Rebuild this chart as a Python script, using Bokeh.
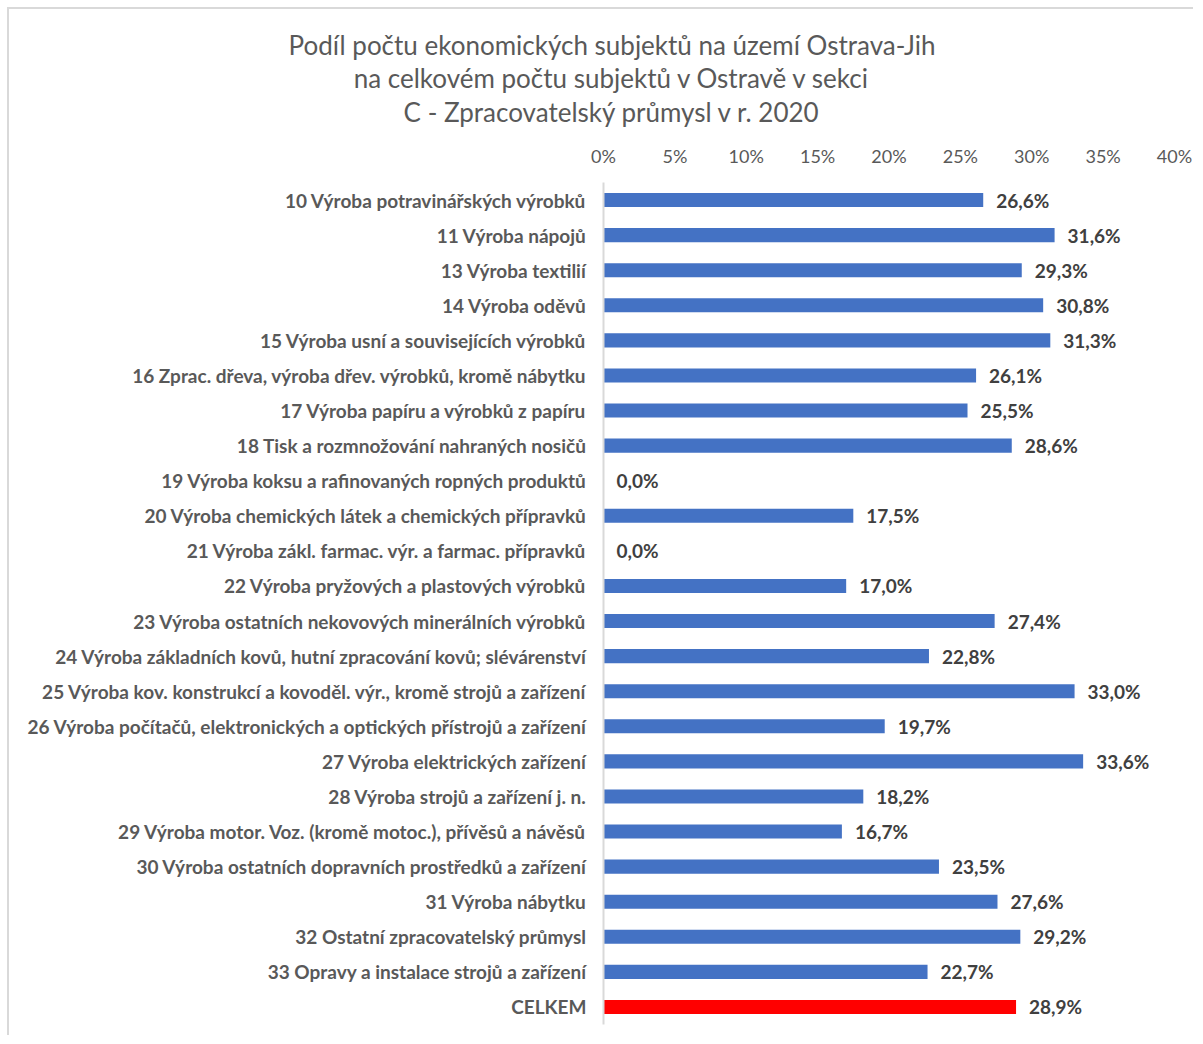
from bokeh.plotting import figure
from bokeh.models import Range1d, FixedTicker, LinearAxis, ColumnDataSource
from bokeh.embed import file_html
from bokeh.resources import INLINE
from bokeh.core.properties import value

# ---------------- data ----------------
categories = [
    "10 Výroba potravinářských výrobků",
    "11 Výroba nápojů",
    "13 Výroba textilií",
    "14 Výroba oděvů",
    "15 Výroba usní a souvisejících výrobků",
    "16 Zprac. dřeva, výroba dřev. výrobků, kromě nábytku",
    "17 Výroba papíru a výrobků z papíru",
    "18 Tisk a rozmnožování nahraných nosičů",
    "19 Výroba koksu a rafinovaných ropných produktů",
    "20 Výroba chemických látek a chemických přípravků",
    "21 Výroba zákl. farmac. výr. a farmac. přípravků",
    "22 Výroba pryžových a plastových výrobků",
    "23 Výroba ostatních nekovových minerálních výrobků",
    "24 Výroba základních kovů, hutní zpracování kovů; slévárenství",
    "25 Výroba kov. konstrukcí a kovoděl. výr., kromě strojů a zařízení",
    "26 Výroba počítačů, elektronických a optických přístrojů a zařízení",
    "27 Výroba elektrických zařízení",
    "28 Výroba strojů a zařízení j. n.",
    "29 Výroba motor. Voz. (kromě motoc.), přívěsů a návěsů",
    "30 Výroba ostatních dopravních prostředků a zařízení",
    "31 Výroba nábytku",
    "32 Ostatní zpracovatelský průmysl",
    "33 Opravy a instalace strojů a zařízení",
    "CELKEM",
]
shares = [26.6, 31.6, 29.3, 30.8, 31.3, 26.1, 25.5, 28.6, 0.0, 17.5, 0.0, 17.0,
          27.4, 22.8, 33.0, 19.7, 33.6, 18.2, 16.7, 23.5, 27.6, 29.2, 22.7, 28.9]
tick_values = [0, 5, 10, 15, 20, 25, 30, 35, 40]
tick_labels = ["0%", "5%", "10%", "15%", "20%", "25%", "30%", "35%", "40%"]
title_lines = [
    "Podíl počtu ekonomických subjektů na území Ostrava-Jih",
    "na celkovém počtu subjektů v Ostravě v sekci",
    "C - Zpracovatelský průmysl v r. 2020",
]

# ---------------- layout ----------------
n = len(categories)
W, H = 1186, 1028
ML, MR, MT, MB = 594, 21, 173, 13
XMAX = 40.0
TITLE_X = 0.6            # title centre, in axis units

FONT = "Lato"
GRAY = "#595959"
DARK = "#404040"

colors = ["#4472C4"] * (n - 1) + ["#FF0000"]
labels = [f"{v:.1f}".replace(".", ",") + "%" for v in shares]
src = ColumnDataSource(dict(y=list(range(n)), v=shares, c=colors, lbl=labels))

p = figure(width=W, height=H, output_backend="svg", toolbar_location=None,
           x_range=Range1d(0, XMAX), y_range=Range1d(n - 0.5, -0.5),
           x_axis_location="above",
           min_border_left=ML, min_border_right=MR,
           min_border_top=MT, min_border_bottom=MB)
p.margin = (7, 0, 0, 7)
p.styles = {"border-top": "2px solid #d9d9d9", "border-left": "2px solid #d9d9d9"}
p.outline_line_color = None
p.background_fill_color = "white"
p.border_fill_color = "white"
p.xgrid.visible = False
p.ygrid.visible = False

p.hbar(y="y", left=0, right="v", height=0.4, fill_color="c", line_color=None, source=src)
p.text(x="v", y="y", text="lbl", x_offset=13, text_align="left", text_baseline="middle",
       text_font=value(FONT), text_font_style="bold", text_font_size="19px",
       text_color=DARK, source=src)

xa = p.xaxis[0]
xa.ticker = FixedTicker(ticks=tick_values)
xa.major_label_overrides = {t: l for t, l in zip(tick_values, tick_labels)}
xa.axis_line_color = None
xa.major_tick_line_color = None
xa.minor_tick_line_color = None
xa.major_label_standoff = 10
xa.major_label_text_font = FONT
xa.major_label_text_font_size = "18px"
xa.major_label_text_color = GRAY

ya = p.yaxis[0]
ya.ticker = FixedTicker(ticks=list(range(n)))
ya.major_label_overrides = {i: c for i, c in enumerate(categories)}
ya.axis_line_color = "#d9d9d9"
ya.axis_line_width = 2
ya.major_tick_line_color = None
ya.minor_tick_line_color = None
ya.major_label_standoff = 11
ya.major_label_text_font = FONT
ya.major_label_text_font_style = "bold"
ya.major_label_text_font_size = "19px"
ya.major_label_text_color = GRAY

# chart title: three one-label axes stacked above the tick axis (nearest first)
for line, standoff in zip(reversed(title_lines), [14, -1, -2]):
    ta = LinearAxis(ticker=FixedTicker(ticks=[TITLE_X]),
                    major_label_overrides={TITLE_X: line})
    ta.axis_line_color = None
    ta.major_tick_line_color = None
    ta.minor_tick_line_color = None
    ta.major_tick_out = 0
    ta.major_label_standoff = standoff
    ta.major_label_text_font = FONT
    ta.major_label_text_font_size = "26px"
    ta.major_label_text_color = GRAY
    p.add_layout(ta, "above")

open("out.html", "w").write(file_html(p, INLINE))
